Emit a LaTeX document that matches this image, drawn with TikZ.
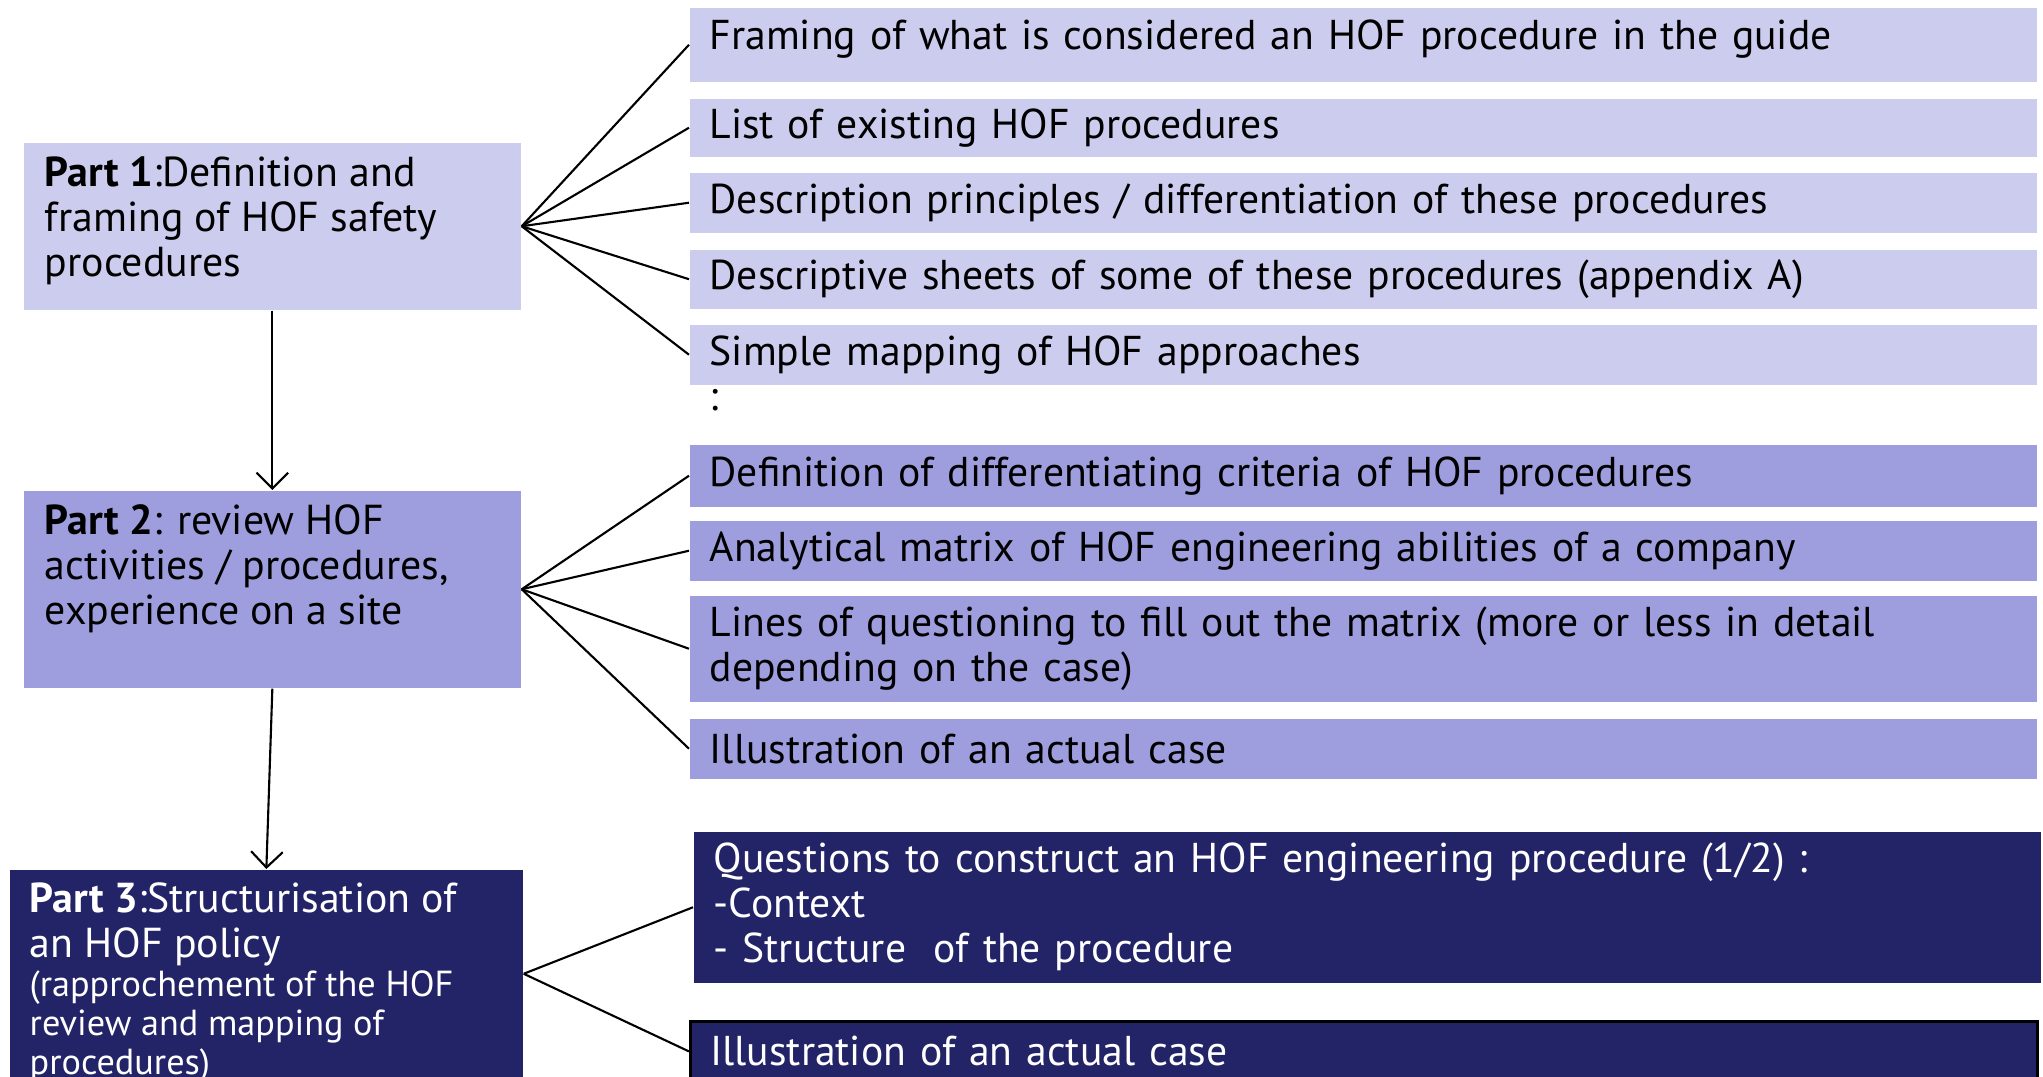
\documentclass[tikz,border=0pt]{standalone}
\usepackage{fontspec}
\setmainfont{PT Sans}
\usetikzlibrary{positioning,calc,arrows.meta}
\definecolor{lavlight}{RGB}{204,204,238}
\definecolor{lavmid}{RGB}{158,158,222}
\definecolor{navyblue}{RGB}{35,35,104}
\tikzset{
  rbox/.style={anchor=north west, inner xsep=0.2cm, inner ysep=0pt, minimum width=13.46cm,
    text width=13.06cm, align=left, font=\fontsize{11.85}{12.8}\selectfont},
  pbox/.style={anchor=north west, inner xsep=0.21cm, inner ysep=0pt,
    font=\fontsize{11.9}{12.8}\selectfont},
  link/.style={line width=0.6pt},
  down/.style={link, -{Straight Barb[length=4.5pt,width=9pt]}},
}

\begin{document}
\begin{tikzpicture}[x=0.01cm, y=-0.01cm]
    \useasboundingbox (0,0) rectangle (2043,1076);
    \clip (0,0) rectangle (2043,1076);

    \node[pbox, fill=lavlight] (p1) at (23,142)
      {\parbox[c][1.67cm][t]{4.55cm}{\raggedright\vspace*{0.14cm}\textbf{Part 1}:Definition and\\framing of HOF safety\\procedures}};
    \node[pbox, fill=lavmid] (p2) at (23,490)
      {\parbox[c][1.97cm][t]{4.55cm}{\raggedright\vspace*{0.14cm}\textbf{Part 2}: review HOF\\activities / procedures,\\experience on a site}};
    \node[pbox, fill=navyblue, text=white, inner xsep=0.2cm] (p3) at (9,869)
      {\parbox[c][2.08cm][t]{4.73cm}{\raggedright\vspace*{0.13cm}\textbf{Part 3}:Structurisation of\\an HOF policy\par
       {\fontsize{10.3}{11.1}\selectfont (rapprochement of the HOF\\review and mapping of\\procedures)\par}}};

    \node[rbox, fill=lavlight, minimum height=0.74cm, text depth=0.2cm] (r1) at (689,7)
      {Framing of what is considered an HOF procedure in the guide};
    \node[rbox, fill=lavlight, minimum height=0.58cm] (r2) at (689,98) {List of existing HOF procedures};
    \node[rbox, fill=lavlight, minimum height=0.60cm] (r3) at (689,172) {Description principles / differentiation of these procedures};
    \node[rbox, fill=lavlight, minimum height=0.59cm] (r4) at (689,249) {Descriptive sheets of some of these procedures (appendix A)};
    \node[rbox, fill=lavlight, minimum height=0.60cm] (r5) at (689,324) {Simple mapping of HOF approaches};
    \node[anchor=west, inner sep=0pt, font=\fontsize{11.85}{12.8}\selectfont] (dots) at (709,400) {:};

    \node[rbox, fill=lavmid, minimum height=0.62cm] (r6) at (689,444) {Definition of differentiating criteria of HOF procedures};
    \node[rbox, fill=lavmid, minimum height=0.60cm] (r7) at (689,520) {Analytical matrix of HOF engineering abilities of a company};
    \node[rbox, fill=lavmid, minimum height=1.06cm] (r8) at (689,595)
      {Lines of questioning to fill out the matrix (more or less in detail\\depending on the case)};
    \node[rbox, fill=lavmid, minimum height=0.60cm] (r9) at (689,718) {Illustration of an actual case};

    \node[rbox, fill=navyblue, text=white, minimum height=1.51cm, minimum width=13.45cm] (r10) at (693,831)
      {Questions to construct an HOF engineering procedure (1/2)~:\\-Context\\- Structure~ of the procedure};
    \node[rbox, fill=navyblue, text=white, draw=black, line width=0.8pt, minimum height=0.60cm] (r11) at (689,1020)
      {Illustration of an actual case};

    \draw[down] (p1.south) -- (p2.north);
    \draw[down] (p2.south) -- (p3.north);

    \draw[link] (p1.east) -- (r1.west);
    \draw[link] (p1.east) -- (r2.west);
    \draw[link] (p1.east) -- (r3.west);
    \draw[link] (p1.east) -- (r4.west);
    \draw[link] (p1.east) -- (r5.west);

    \draw[link] (p2.east) -- (r6.west);
    \draw[link] (p2.east) -- (r7.west);
    \draw[link] (p2.east) -- (r8.west);
    \draw[link] (p2.east) -- (r9.west);

    \draw[link] (p3.east) -- (r10.west);
    \draw[link] (p3.east) -- (r11.west);
\end{tikzpicture}
\end{document}
